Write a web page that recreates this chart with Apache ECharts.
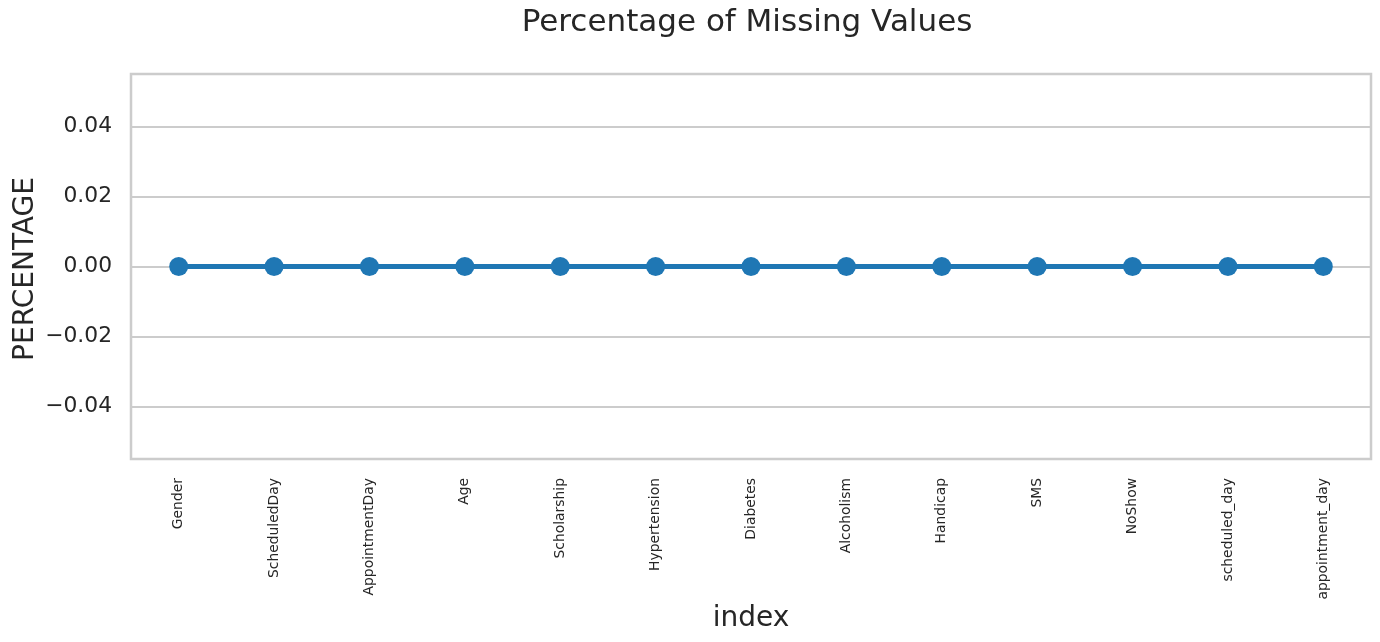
<!DOCTYPE html>
<html><head><meta charset="utf-8">
<script src="https://cdn.jsdelivr.net/npm/echarts@6/dist/echarts.min.js"></script>
<style>html,body{margin:0;padding:0;background:#fff}#c{width:1380px;height:642px}</style>
</head><body><div id="c"></div>
<script>
const categories = ['Gender','ScheduledDay','AppointmentDay','Age','Scholarship','Hypertension','Diabetes','Alcoholism','Handicap','SMS','NoShow','scheduled_day','appointment_day'];
const percentages = [0,0,0,0,0,0,0,0,0,0,0,0,0];
const yTicks = [-0.04,-0.02,0,0.02,0.04];
const titleText = 'Percentage of Missing Values';
const xTitle = 'index';
const yTitle = 'PERCENTAGE';

const FONT = 'DejaVu Sans';
const chart = echarts.init(document.getElementById('c'), null, {renderer:'canvas'});
chart.setOption({
  backgroundColor:'#ffffff',
  animation:false,
  grid:{left:131,right:9,top:74,bottom:183,show:true,borderColor:'#cccccc',borderWidth:2.5,backgroundColor:'transparent'},
  xAxis:{type:'category',data:categories,boundaryGap:true,
    axisLine:{show:false},axisTick:{show:false},splitLine:{show:false},
    axisLabel:{rotate:90,interval:0,margin:19,fontFamily:FONT,fontSize:13.9,color:'#262626'}},
  yAxis:{type:'value',min:-0.055,max:0.055,
    axisLine:{show:false},
    axisTick:{show:false,customValues:yTicks},
    axisLabel:{customValues:yTicks,margin:19,fontFamily:FONT,fontSize:21.8,color:'#262626',
      formatter:v=>{const s=Math.abs(v).toFixed(2);return v< -1e-9?'\u2212'+s:s;}},
    splitLine:{show:true,lineStyle:{color:'#cccccc',width:2}}},
  graphic:[
    {type:'text',x:747,y:23,style:{text:titleText,font:'31px "DejaVu Sans"',fill:'#262626',textAlign:'center',textVerticalAlign:'middle'}},
    {type:'text',x:751,y:619,style:{text:xTitle,font:'28px "DejaVu Sans"',fill:'#262626',textAlign:'center',textVerticalAlign:'middle'}},
    {type:'text',rotation:Math.PI/2,x:12,y:269,style:{text:yTitle,font:'28px "DejaVu Sans"',fill:'#262626',textAlign:'center',textVerticalAlign:'top'}}
  ],
  series:[{type:'line',data:percentages,symbol:'circle',symbolSize:19,
    lineStyle:{color:'#1f77b4',width:5},itemStyle:{color:'#1f77b4'},z:5}]
});
</script></body></html>
